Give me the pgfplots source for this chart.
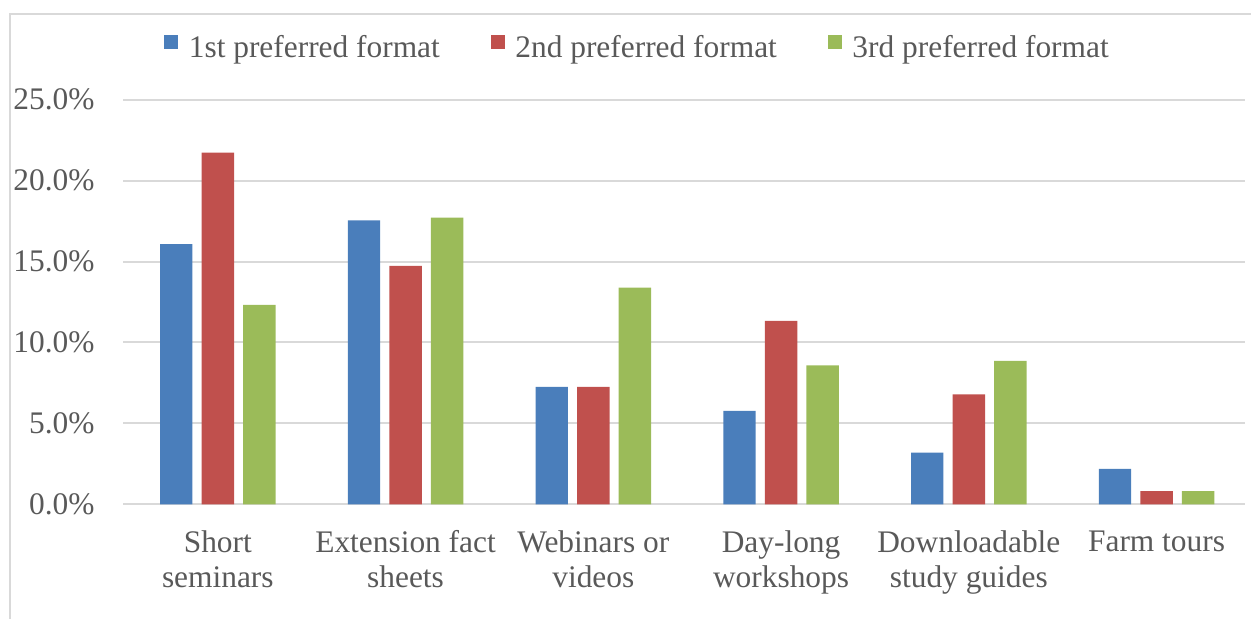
\documentclass[border=0pt]{standalone}
\usepackage{fontspec}
\setmainfont{Liberation Serif}
\usepackage{pgfplots}
\pgfplotsset{compat=1.18}

\definecolor{seriesA}{HTML}{4A7EBB}
\definecolor{seriesB}{HTML}{C0504D}
\definecolor{seriesC}{HTML}{9BBB59}
\definecolor{gridgray}{HTML}{D9D9D9}
\definecolor{labelgray}{HTML}{595959}

\begin{document}
\begin{tikzpicture}
\useasboundingbox (0pt,0pt) rectangle (625.5pt,309pt);
% outer chart frame
\draw[gridgray, line width=1pt] (5pt,-2pt) -- (5pt,302pt) -- (628pt,302pt);
\begin{axis}[
  at={(61.5pt,56.85pt)}, anchor=south west,
  scale only axis, width=561pt, height=202.3pt,
  ymin=0, ymax=25, ytick={0,5,...,25},
  xmin=-0.505, xmax=5.471, xtick=data,
  xticklabels={{Short\\seminars},{Extension fact\\sheets},{Webinars or\\videos},{Day-long\\workshops},{Downloadable\\study guides},{Farm tours}},
  ybar=4.6pt, bar width=16.2pt,
  axis x line*=bottom, axis y line*=left,
  axis line style={-},
  x axis line style={draw=gridgray, line width=1pt},
  y axis line style={draw=none},
  ymajorgrids, major grid style={draw=gridgray, line width=1pt},
  major tick length=0pt,
  tick style={draw=none},
  /pgf/number format/assume math mode=true,
  yticklabel={\pgfmathprintnumber[fixed,fixed zerofill,precision=1]{\tick}\%},
  every tick label/.append style={font=\fontsize{15.7}{17.5}\selectfont, text=labelgray},
  yticklabel style={anchor=east, inner sep=0pt, xshift=-14pt},
  xticklabel style={align=center, anchor=north, inner sep=0pt, yshift=-13pt},
  legend columns=3,
  legend style={at={(0.4577,1.128)}, anchor=center, draw=none, fill=none,
    font=\fontsize{15.7}{17.5}\selectfont, text=labelgray,
    nodes={inner sep=0pt},
    /tikz/every odd column/.append style={column sep=5.25pt},
    /tikz/every even column/.append style={column sep=25.5pt}},
  legend image code/.code={\fill[#1] (0pt,-0.5pt) rectangle (7pt,6.5pt);},
]
\addplot[fill=seriesA, draw=none] coordinates {(0,16.07) (1,17.55) (2,7.25) (3,5.77) (4,3.20) (5,2.19)};
\addplot[fill=seriesB, draw=none] coordinates {(0,21.73) (1,14.73) (2,7.25) (3,11.33) (4,6.80) (5,0.81)};
\addplot[fill=seriesC, draw=none] coordinates {(0,12.32) (1,17.71) (2,13.39) (3,8.59) (4,8.86) (5,0.81)};
\legend{1st preferred format, 2nd preferred format, 3rd preferred format}
\end{axis}
\end{tikzpicture}
\end{document}
